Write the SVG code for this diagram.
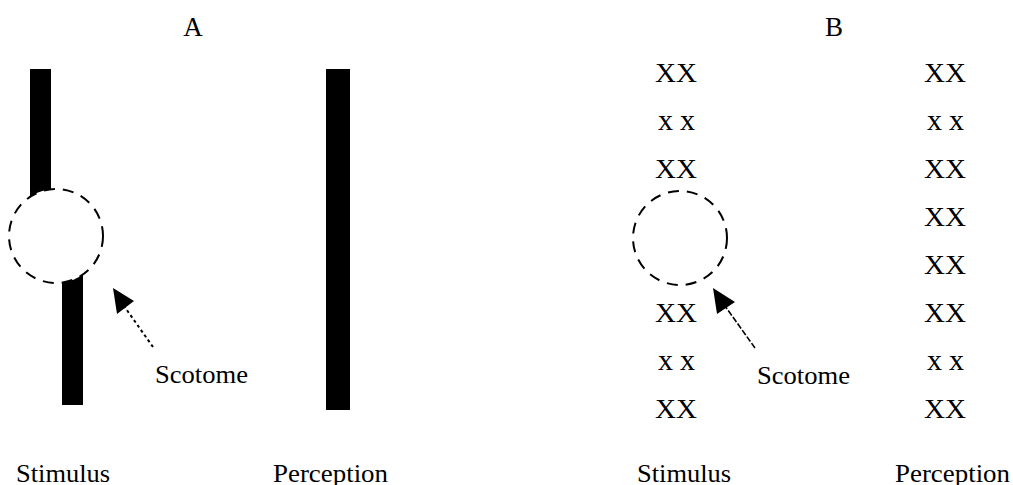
<svg xmlns="http://www.w3.org/2000/svg" width="1013" height="485" viewBox="0 0 1013 485">
<defs>
<style>
text{font-family:"Liberation Serif","DejaVu Serif","Times New Roman",serif;fill:#000}
.t{font-size:25px}
.h{font-size:27px;text-anchor:middle}
.xx{font-size:27px}
.sx{font-size:30px}
.bar{fill:#000}
.scot{fill:#fff;stroke:#000;stroke-width:2;stroke-dasharray:11 8}
.head{fill:#000}
</style>
</defs>
<rect width="1013" height="485" fill="#fff"/>
<g id="panelA">
<text class="h" x="193" y="36">A</text>
<g id="stimulusA">
<rect class="bar" x="30" y="69" width="21" height="170"/>
<rect class="bar" x="62" y="236" width="21" height="169"/>
<circle class="scot" cx="56" cy="236" r="47"/>
</g>
<g id="perceptionA">
<rect class="bar" x="326" y="69" width="24" height="341"/>
</g>
<text class="t" x="155" y="383" textLength="93" lengthAdjust="spacingAndGlyphs">Scotome</text>
<text class="t" x="16" y="482" textLength="94" lengthAdjust="spacingAndGlyphs">Stimulus</text>
<text class="t" x="273" y="482" textLength="115" lengthAdjust="spacingAndGlyphs">Perception</text>
</g>
<g id="panelB">
<text class="h" x="834" y="36">B</text>
<g id="stimulusB">
<text class="xx" x="655" y="82" textLength="42" lengthAdjust="spacingAndGlyphs">XX</text>
<text class="sx" x="658" y="130" textLength="37" lengthAdjust="spacing">xx</text>
<text class="xx" x="655" y="178" textLength="42" lengthAdjust="spacingAndGlyphs">XX</text>
<circle class="scot" cx="680" cy="238" r="47"/>
<text class="xx" x="655" y="322" textLength="42" lengthAdjust="spacingAndGlyphs">XX</text>
<text class="sx" x="658" y="370" textLength="37" lengthAdjust="spacing">xx</text>
<text class="xx" x="655" y="418" textLength="42" lengthAdjust="spacingAndGlyphs">XX</text>
</g>
<g id="perceptionB">
<text class="xx" x="924" y="82" textLength="42" lengthAdjust="spacingAndGlyphs">XX</text>
<text class="sx" x="927" y="130" textLength="37" lengthAdjust="spacing">xx</text>
<text class="xx" x="924" y="178" textLength="42" lengthAdjust="spacingAndGlyphs">XX</text>
<text class="xx" x="924" y="226" textLength="42" lengthAdjust="spacingAndGlyphs">XX</text>
<text class="xx" x="924" y="274" textLength="42" lengthAdjust="spacingAndGlyphs">XX</text>
<text class="xx" x="924" y="322" textLength="42" lengthAdjust="spacingAndGlyphs">XX</text>
<text class="sx" x="927" y="370" textLength="37" lengthAdjust="spacing">xx</text>
<text class="xx" x="924" y="418" textLength="42" lengthAdjust="spacingAndGlyphs">XX</text>
</g>
<text class="t" x="757" y="384" textLength="93" lengthAdjust="spacingAndGlyphs">Scotome</text>
<text class="t" x="637" y="482" textLength="94" lengthAdjust="spacingAndGlyphs">Stimulus</text>
<text class="t" x="895" y="482" textLength="115" lengthAdjust="spacingAndGlyphs">Perception</text>
</g>
<g id="connectors">
<line x1="153" y1="347" x2="124" y2="306" stroke="#000" stroke-width="2" stroke-dasharray="3 3"/>
<polygon class="head" points="113,288 134,301 117,314"/>
<line x1="755" y1="348" x2="725" y2="306" stroke="#000" stroke-width="1.6" stroke-dasharray="6 2"/>
<polygon class="head" points="713,288 735,302 717,314"/>
</g>
</svg>
